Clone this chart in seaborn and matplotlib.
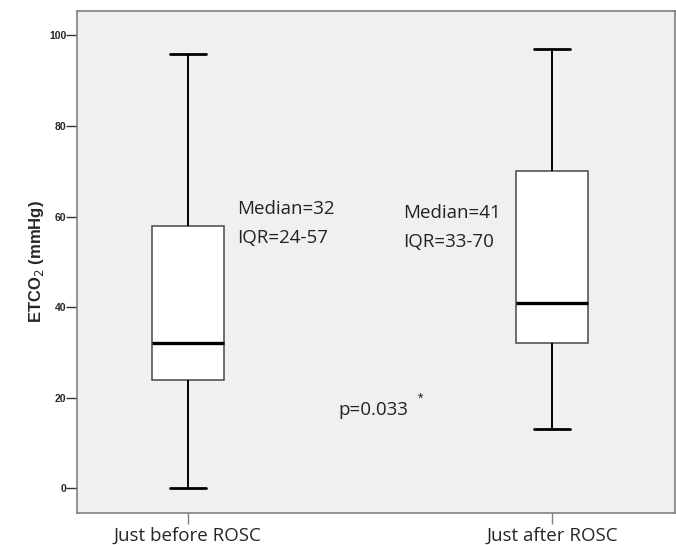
import numpy as np
import pandas as pd
import matplotlib
matplotlib.use('Agg')
import matplotlib.pyplot as plt
import seaborn as sns

# five-number summaries (min, Q1, median, Q3, max)
categories = ['Just before ROSC', 'Just after ROSC']
before_rosc = [0, 24, 32, 58, 96]
after_rosc = [13, 32, 41, 70, 97]
y_ticks = [0, 20, 40, 60, 80, 100]

labels_before = ['Median=32', 'IQR=24-57']
labels_after = ['Median=41', 'IQR=33-70']
p_label = 'p=0.033'

df = pd.DataFrame({
    'phase': [categories[0]] * len(before_rosc) + [categories[1]] * len(after_rosc),
    'etco2': before_rosc + after_rosc,
})

sns.set_style('ticks', {'axes.facecolor': '#f0f0f0', 'axes.edgecolor': '#808080'})
plt.rcParams['font.family'] = ['Liberation Sans', 'DejaVu Sans']

fig = plt.figure(figsize=(6.76, 5.45), dpi=100)
ax = fig.add_axes([0.1143, 0.0593, 0.884, 0.9206])

sns.boxplot(data=df, x='phase', y='etco2', order=categories, ax=ax,
            width=0.198, whis=np.inf, saturation=1, color='white',
            linecolor='black', linewidth=1.2,
            boxprops=dict(facecolor='white', edgecolor='#555555', linewidth=1.2),
            medianprops=dict(color='black', linewidth=2.4),
            whiskerprops=dict(color='black', linewidth=1.4),
            capprops=dict(color='black', linewidth=2.0))

ax.set_xlim(-0.304, 1.338)
ax.set_ylim(-5.4, 105.4)
ax.set_yticks(y_ticks)
ax.set_yticklabels([str(t) for t in y_ticks], fontsize=7.5, fontweight='bold')
ax.set_xticks(range(len(categories)))
ax.set_xticklabels(categories, fontsize=13.5, family=['Open Sans', 'DejaVu Sans'])
ax.tick_params(axis='y', length=8, width=1, color='#333333', pad=0)
ax.tick_params(axis='x', length=8, width=1, color='#808080', pad=2)
ax.set_xlabel('')
ax.set_ylabel('ETCO$_2$ (mmHg)', fontsize=12, fontweight='bold', labelpad=2)
for s in ax.spines.values():
    s.set_linewidth(1.2)
    s.set_visible(True)

txt = dict(fontsize=13.5, color='#222222', family=['Open Sans', 'DejaVu Sans'], va='baseline')
ax.text(0.134, 60.5, labels_before[0], **txt)
ax.text(0.134, 54.2, labels_before[1], **txt)
ax.text(0.591, 59.7, labels_after[0], **txt)
ax.text(0.591, 53.3, labels_after[1], **txt)
ax.text(0.414, 16.2, p_label, **txt)
ax.text(0.632, 18.8, '*', fontsize=10, color='#222222', va='baseline')

fig.savefig('out.png', dpi=100)
